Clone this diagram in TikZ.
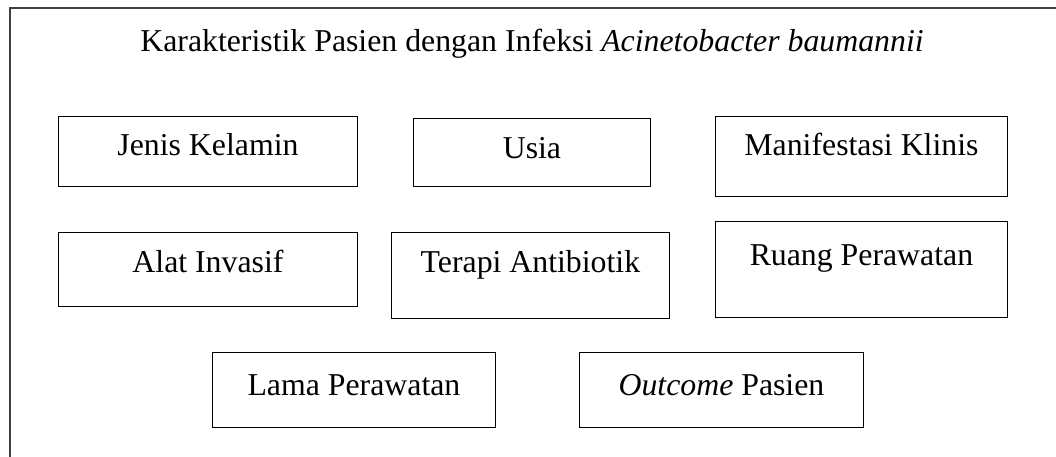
\documentclass[tikz,border=0pt]{standalone}
\usepackage{fontspec}
\setmainfont{Liberation Serif}
\newcommand{\fsz}{\fontsize{31.8}{38}\selectfont}
\begin{document}
\begin{tikzpicture}[x=1pt,y=-1pt,
  cbox/.style={draw=black, line width=0.9pt, rectangle, inner sep=0pt, anchor=north west, font=\fsz},
  frameline/.style={draw=black!75, line width=1.4pt}]
\useasboundingbox (0,0) rectangle (1056,457);
\coordinate (fbl) at (10,457);
\coordinate (fc) at (10,8);
\coordinate (ftr) at (1056,8);
\draw[frameline] (fbl) -- (fc) -- (ftr);
\node[anchor=base, font=\fsz] (title) at (532,52) {Karakteristik Pasien dengan Infeksi \textit{Acinetobacter baumannii}};
\node[cbox, minimum width=299, text height=39, text depth=31] (jk) at (58,116) {Jenis Kelamin};
\node[cbox, minimum width=237, text height=40, text depth=28] (usia) at (413,118) {Usia};
\node[cbox, minimum width=292, text height=39, text depth=41] (mk) at (715,116) {Manifestasi Klinis};
\node[cbox, minimum width=299, text height=40, text depth=34] (ai) at (58,232) {Alat Invasif};
\node[cbox, minimum width=278, text height=40, text depth=46] (ta) at (391,232) {Terapi Antibiotik};
\node[cbox, minimum width=292, text height=44, text depth=52] (rp) at (715,221) {Ruang Perawatan};
\node[cbox, minimum width=283, text height=43, text depth=32] (lp) at (212,352) {Lama Perawatan};
\node[cbox, minimum width=284, text height=43, text depth=32] (op) at (579,352) {\textit{Outcome} Pasien};
\end{tikzpicture}
\end{document}
